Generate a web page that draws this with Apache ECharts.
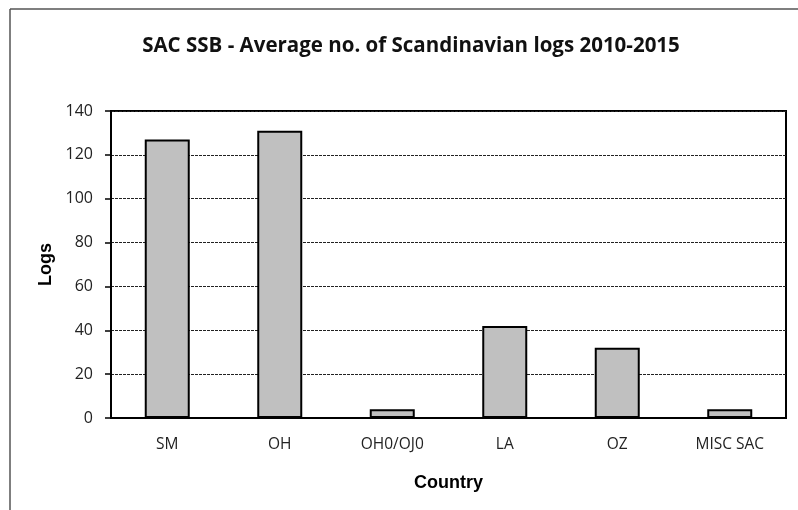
<!DOCTYPE html>
<html>
<head>
<meta charset="utf-8">
<script src="https://cdn.jsdelivr.net/npm/echarts@6/dist/echarts.min.js"></script>
<style>
  html, body { margin: 0; padding: 0; background: #fff; }
  #chart { width: 798px; height: 510px; }
</style>
</head>
<body>
<div id="chart"></div>
<script>
  // 数据
  var countries = ['SM', 'OH', 'OH0/OJ0', 'LA', 'OZ', 'MISC SAC']
  var avgLogs = [127, 131, 4, 42, 32, 4]

  var chart = echarts.init(document.getElementById('chart'))
  var option = {
    animation: false,
    title: {
      text: 'SAC SSB - Average no. of Scandinavian logs 2010-2015',
      left: 406,
      top: 31,
      textAlign: 'center',
      textStyle: {
        fontFamily: 'Open Sans',
        fontWeight: 'bold',
        fontSize: 20.5,
        color: '#111'
      }
    },
    // 外框 (只有左边和上边)
    graphic: [
      { type: 'line', shape: { x1: 10, y1: 9, x2: 10, y2: 510 }, style: { stroke: '#555', lineWidth: 1.5 } },
      { type: 'line', shape: { x1: 10, y1: 9, x2: 798, y2: 9 }, style: { stroke: '#555', lineWidth: 1.5 } }
    ],
    grid: {
      left: 111,
      top: 111,
      right: 12,
      bottom: 92,
      show: true,
      borderColor: '#000',
      borderWidth: 2
    },
    xAxis: {
      type: 'category',
      data: countries,
      name: 'Country',
      nameLocation: 'middle',
      nameGap: 56,
      nameTextStyle: { fontFamily: 'Liberation Sans', fontWeight: 'bold', fontSize: 18, color: '#000' },
      axisLine: { lineStyle: { color: '#000', width: 2 } },
      axisTick: { length: 6, lineStyle: { color: '#000', width: 1.5 } },
      axisLabel: { margin: 19, fontFamily: 'Open Sans', fontSize: 15.5, color: '#222' }
    },
    yAxis: {
      type: 'value',
      min: 0,
      max: 140,
      interval: 20,
      name: 'Logs',
      nameLocation: 'middle',
      nameGap: 56,
      nameTextStyle: { fontFamily: 'Liberation Sans', fontWeight: 'bold', fontSize: 18, color: '#000' },
      axisLine: { show: true, lineStyle: { color: '#000', width: 2 } },
      axisTick: { show: true, length: 6, lineStyle: { color: '#000', width: 1.5 } },
      axisLabel: { margin: 18, fontFamily: 'Open Sans', fontSize: 16, color: '#222' },
      splitLine: { lineStyle: { color: '#222', type: [3, 1], width: 1 } }
    },
    series: [
      {
        type: 'bar',
        data: avgLogs,
        barWidth: '40%',
        itemStyle: {
          color: '#c0c0c0',
          borderColor: '#000',
          borderWidth: 2
        }
      }
    ]
  }
  chart.setOption(option)
</script>
</body>
</html>
